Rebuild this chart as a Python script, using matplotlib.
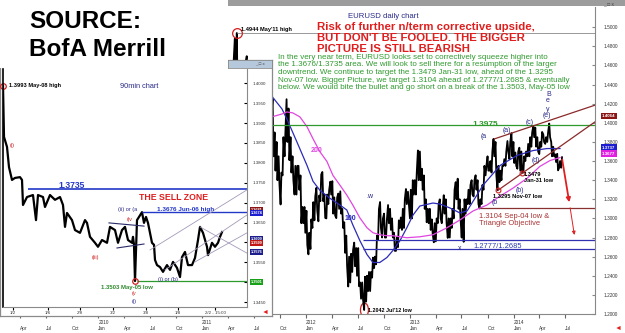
import matplotlib.pyplot as plt
import matplotlib.transforms as mtransforms
import numpy as np
import pandas as pd
from matplotlib.patches import Ellipse

plt.rcParams['font.family'] = ['Liberation Sans', 'DejaVu Sans']

W, H = 625, 333

#----------daily chart: EURUSD weekly high / low from 2011-04-04----------
week_start = "2011-04-04"
hi_2011 = [1.4400, 1.4490, 1.4650, 1.4880, 1.4940, 1.4400, 1.4345, 1.4160, 1.4640,
           1.4698, 1.4500, 1.4450, 1.4580, 1.4530, 1.4280, 1.4450, 1.4450, 1.4400,
           1.4480, 1.4550, 1.4500, 1.4550, 1.4250, 1.3900, 1.3800, 1.3650, 1.3480,
           1.3850, 1.3900, 1.4247, 1.4150, 1.3850, 1.3650, 1.3550, 1.3550, 1.3550,
           1.3450, 1.3120, 1.3120]
lo_2011 = [1.4150, 1.4250, 1.4320, 1.4500, 1.4310, 1.4110, 1.4050, 1.3968, 1.4150,
           1.4480, 1.4070, 1.4100, 1.4250, 1.4230, 1.3837, 1.4050, 1.4250, 1.4050,
           1.4050, 1.4250, 1.4350, 1.4100, 1.3650, 1.3500, 1.3400, 1.3360, 1.3146,
           1.3450, 1.3650, 1.3800, 1.3610, 1.3480, 1.3400, 1.3250, 1.3250, 1.3300,
           1.2950, 1.2950, 1.2850]
hi_2012 = [1.3080, 1.2850, 1.2990, 1.3170, 1.3230, 1.3320, 1.3240, 1.3460, 1.3486,
           1.3250, 1.3250, 1.3300, 1.3385, 1.3390, 1.3220, 1.3220, 1.3260, 1.3283,
           1.3100, 1.2960, 1.2820, 1.2600, 1.2630, 1.2670, 1.2747, 1.2690, 1.2690,
           1.2330, 1.2330, 1.2390, 1.2400, 1.2440, 1.2440, 1.2590, 1.2600, 1.2820,
           1.3100, 1.3172, 1.3000, 1.3050, 1.2990, 1.3140, 1.3100, 1.3000, 1.2850,
           1.2800, 1.2980, 1.3010, 1.3100, 1.3200, 1.3308, 1.3280, 1.3300]
lo_2012 = [1.2720, 1.2624, 1.2680, 1.2900, 1.2980, 1.3080, 1.2970, 1.3180, 1.3180,
           1.3006, 1.3000, 1.3150, 1.3250, 1.3050, 1.3030, 1.3003, 1.3100, 1.3050,
           1.2900, 1.2640, 1.2500, 1.2288, 1.2330, 1.2440, 1.2500, 1.2400, 1.2290,
           1.2160, 1.2150, 1.2042, 1.2130, 1.2240, 1.2240, 1.2380, 1.2480, 1.2520,
           1.2780, 1.2900, 1.2800, 1.2800, 1.2800, 1.2950, 1.2880, 1.2800, 1.2660,
           1.2661, 1.2700, 1.2900, 1.2880, 1.2900, 1.3150, 1.3160, 1.3000]
hi_2013 = [1.3400, 1.3400, 1.3480, 1.3711, 1.3700, 1.3520, 1.3450, 1.3200, 1.3100,
           1.3100, 1.2990, 1.2950, 1.3000, 1.3150, 1.3200, 1.3100, 1.3243, 1.3200,
           1.3000, 1.3000, 1.3100, 1.3300, 1.3380, 1.3416, 1.3200, 1.3100, 1.3200,
           1.3200, 1.3300, 1.3350, 1.3400, 1.3400, 1.3452, 1.3400, 1.3200, 1.3350,
           1.3550, 1.3550, 1.3650, 1.3600, 1.3700, 1.3832, 1.3800, 1.3550, 1.3500,
           1.3550, 1.3620, 1.3700, 1.3810, 1.3800, 1.3893, 1.3800]
lo_2013 = [1.3000, 1.3250, 1.3250, 1.3400, 1.3400, 1.3300, 1.3100, 1.2960, 1.2950,
           1.2880, 1.2840, 1.2750, 1.2760, 1.2950, 1.3000, 1.2950, 1.3050, 1.2950,
           1.2796, 1.2800, 1.2900, 1.3000, 1.3200, 1.3100, 1.3000, 1.2800, 1.2755,
           1.3050, 1.3150, 1.3150, 1.3250, 1.3230, 1.3300, 1.3150, 1.3104, 1.3150,
           1.3300, 1.3450, 1.3500, 1.3500, 1.3480, 1.3650, 1.3450, 1.3295, 1.3380,
           1.3400, 1.3550, 1.3550, 1.3700, 1.3620, 1.3650, 1.3580]
hi_2014 = [1.3690, 1.3700, 1.3740, 1.3700, 1.3650, 1.3700, 1.3780, 1.3850, 1.3900,
           1.3967, 1.3950, 1.3850, 1.3800, 1.3905, 1.3880, 1.3850, 1.3900, 1.3993,
           1.3800, 1.3750, 1.3670, 1.3676, 1.3600, 1.3640]
lo_2014 = [1.3550, 1.3520, 1.3500, 1.3479, 1.3480, 1.3600, 1.3650, 1.3650, 1.3750,
           1.3850, 1.3750, 1.3700, 1.3673, 1.3750, 1.3800, 1.3780, 1.3800, 1.3850,
           1.3650, 1.3650, 1.3590, 1.3503, 1.3530, 1.3530]

#----------moving averages----------
ma100_dates = ["2011-09-03", "2011-10-09", "2011-10-26", "2011-11-30", "2012-01-05",
               "2012-01-26", "2012-02-19", "2012-03-25", "2012-04-30", "2012-05-24",
               "2012-06-14", "2012-07-09", "2012-08-03", "2012-08-24", "2012-09-17",
               "2012-10-12", "2012-11-02", "2012-11-27", "2012-12-21", "2013-01-12",
               "2013-02-05", "2013-03-23", "2013-04-17", "2013-05-22", "2013-06-26",
               "2013-07-21", "2013-09-15", "2013-11-14", "2014-01-12", "2014-03-10",
               "2014-04-28", "2014-06-13"]
ma100 = [1.4280, 1.4145, 1.4041, 1.3803, 1.3554, 1.3389, 1.3295, 1.3212, 1.3140, 1.3088,
         1.2933, 1.2767, 1.2622, 1.2539, 1.2539, 1.2591, 1.2664, 1.2767, 1.2902, 1.3036,
         1.3130, 1.3161, 1.3150, 1.3109, 1.3057, 1.3078, 1.3347, 1.3554, 1.3658, 1.3710,
         1.3731, 1.3731]
ma200_dates = ["2011-09-03", "2011-10-09", "2011-10-26", "2011-11-16", "2011-12-11",
               "2012-01-05", "2012-01-26", "2012-02-19", "2012-03-15", "2012-04-05",
               "2012-04-30", "2012-05-24", "2012-06-14", "2012-07-09", "2012-08-03",
               "2012-08-24", "2012-09-17", "2012-10-12", "2012-11-02", "2012-12-21",
               "2013-02-05", "2013-03-23", "2013-05-11", "2013-06-26", "2013-08-11",
               "2013-09-29", "2013-11-14", "2013-12-29", "2014-02-17", "2014-04-03",
               "2014-05-09", "2014-06-13"]
ma200 = [1.4062, 1.4093, 1.4114, 1.4104, 1.4062, 1.3959, 1.3834, 1.3699, 1.3596, 1.3451,
         1.3347, 1.3244, 1.3140, 1.3005, 1.2902, 1.2850, 1.2829, 1.2819, 1.2819, 1.2798,
         1.2808, 1.2829, 1.2902, 1.2984, 1.3078, 1.3140, 1.3233, 1.3316, 1.3420, 1.3544,
         1.3606, 1.3637]

#----------levels and trend lines on the daily chart----------
may11_high = 1.4944
jul12_low = 1.2042
sell_level = 1.3975
sep04_low, sep04_date = 1.3104, "2013-09-04"
target_levels = [1.2777, 1.2685]
target_from = "2012-07-19"
tri_upper_dates, tri_upper = ["2013-10-25", "2014-10-14"], [1.3832, 1.4185]
tri_lower_dates, tri_lower = ["2013-11-07", "2014-10-14"], [1.3295, 1.4010]
swing_dates, swing_lows = ["2013-11-07", "2014-01-31"], [1.3295, 1.3479]
path_dates, path_prices = ["2014-06-19", "2014-07-17", "2014-08-04"], [1.3645, 1.3140, 1.2798]
right_boxes = [(1.4073, "1.4064", "#8b1414"), (1.3741, "1.3737", "#1c1cd0"), (1.3679, "1.3677", "#e020e0")]

#----------90min chart (bar number, price)----------
bar_no = [0, 1, 4, 6, 9, 12, 17, 19, 20, 24, 30, 33, 35, 40, 42, 47, 52, 57, 60, 62, 64,
          69, 72, 77, 82, 84, 87, 92, 95, 99, 104, 107, 112, 115, 119, 122, 125, 129, 130,
          131, 132, 134, 136, 139, 141, 143, 145, 147, 149, 151, 152, 154, 157, 160, 164,
          167, 170, 174, 177, 179, 182, 185, 189, 192, 195, 197, 200, 204, 205, 209, 212,
          215, 217, 219]
bar_px = [1.3993, 1.3865, 1.3840, 1.3789, 1.3757, 1.3762, 1.3764, 1.3757, 1.3694, 1.3714,
          1.3719, 1.3656, 1.3719, 1.3714, 1.3689, 1.3719, 1.3707, 1.3714, 1.3694, 1.3639,
          1.3674, 1.3656, 1.3631, 1.3624, 1.3656, 1.3649, 1.3614, 1.3599, 1.3589, 1.3606,
          1.3599, 1.3639, 1.3631, 1.3599, 1.3631, 1.3639, 1.3606, 1.3599, 1.3614, 1.3594,
          1.3503, 1.3656, 1.3664, 1.3676, 1.3649, 1.3664, 1.3649, 1.3624, 1.3599, 1.3594,
          1.3556, 1.3543, 1.3538, 1.3526, 1.3543, 1.3531, 1.3551, 1.3536, 1.3513, 1.3563,
          1.3576, 1.3543, 1.3543, 1.3561, 1.3606, 1.3639, 1.3624, 1.3589, 1.3568, 1.3599,
          1.3589, 1.3599, 1.3614, 1.3626]
inset_tick_bars = [10, 45, 77, 110, 143, 175, 212]
inset_tick_labels = ["1/2", "1/6", "2/8", "3/2", "3/8", "1/8", "2/2 - 15:00"]
level_1_3735 = 1.3735
level_1_3676 = 1.3676
level_1_3503 = 1.3503
tri_top_bars, tri_top = [106, 141], [1.3649, 1.3641]
tri_bot_bars, tri_bot = [114, 141], [1.3586, 1.3596]
channel_lines = [([147, 244], [1.3581, 1.3732]), ([162, 244], [1.3531, 1.3669]),
                 ([197, 244], [1.3639, 1.3573]), ([192, 244], [1.3551, 1.3624])]
inset_boxes = [(1.3681, "#8b1414"), (1.3674, "#1c1cd0"), (1.3609, "#1c1c8c"),
               (1.3599, "#c01818"), (1.3576, "#1c1c8c"), (1.3501, "#18a018")]
inset_hidden_ticks = [1.3500, 1.3600]


def rect(x0, y0, x1, y1):
    return [x0 / W, 1 - y1 / H, (x1 - x0) / W, (y1 - y0) / H]


def ftxt(px, py, s, **kw):
    kw.setdefault('va', 'center')
    fig.text(px / W, 1 - py / H, s, **kw)


NAVY = '#2a2a8a'
fig = plt.figure(figsize=(W / 100, H / 100), dpi=100)

#----------daily chart----------
ax = fig.add_axes(rect(0, 7, 595, 314))
week_hi = hi_2011 + hi_2012 + hi_2013 + hi_2014
week_lo = lo_2011 + lo_2012 + lo_2013 + lo_2014
weeks = pd.date_range(week_start, periods=len(week_hi), freq='7D')
# draw each week as a high->low swing so the series reads like daily bars
zx, zy = [], []
for i in range(len(week_hi)):
    mid = (week_hi[i] + week_lo[i]) / 2
    nxt = (week_hi[i + 1] + week_lo[i + 1]) / 2 if i + 1 < len(week_hi) else mid
    pair = [week_hi[i], week_lo[i]] if nxt < mid else [week_lo[i], week_hi[i]]
    zx += [weeks[i] + pd.Timedelta(days=1), weeks[i] + pd.Timedelta(days=4)]
    zy += pair
ax.plot(zx, zy, color='black', lw=1.3)
ax.plot(pd.to_datetime(ma100_dates), ma100, color='#2b2bb8', lw=0.9)
ax.plot(pd.to_datetime(ma200_dates), ma200, color='#e046e0', lw=0.9)
x0, x1 = pd.Timestamp("2009-01-20"), pd.Timestamp("2014-10-14")
ax.set_xlim(x0, x1)
ax.set_ylim(1.2031, 1.5212)
hi_date = weeks[int(np.argmax(hi_2011))] + pd.Timedelta(days=2)
lo_date = weeks[39 + int(np.argmin(lo_2012))] + pd.Timedelta(days=2)
ax.hlines(may11_high, hi_date, x1, color='#999999', lw=0.7)
ax.plot(hi_date, may11_high, 'o', ms=7, mfc='none', mec='#d02020', mew=0.9)
ax.add_patch(Ellipse((lo_date, jul12_low), 28, 0.0145, fill=False, ec='#d02020', lw=0.9))
ax.axhline(sell_level, color='#2e9a2e', lw=0.9)
ax.hlines(sep04_low, pd.Timestamp(sep04_date), x1, color='#8b3030', lw=0.9)
ax.hlines(target_levels, pd.Timestamp(target_from), x1, color='#3030b0', lw=0.9)
ax.plot(pd.to_datetime(tri_upper_dates), tri_upper, color='#8b2a2a', lw=0.9)
ax.plot(pd.to_datetime(tri_lower_dates), tri_lower, color='#8b2a2a', lw=0.9)
ax.plot(pd.to_datetime(swing_dates), swing_lows, 'o', ms=3.5, mfc='none', mec='#d02020', mew=0.8)
pd_dates = pd.to_datetime(path_dates)
ax.annotate('', xy=(pd_dates[1], path_prices[1]), xytext=(pd_dates[0], path_prices[0]),
            arrowprops=dict(arrowstyle='-|>', color='#e02020', lw=1.3, mutation_scale=6))
ax.annotate('', xy=(pd_dates[2], path_prices[2]), xytext=(pd_dates[1], path_prices[1]),
            arrowprops=dict(arrowstyle='-|>', color='#e02020', lw=0.7, mutation_scale=5))

ax.yaxis.tick_right()
yt = np.arange(1.20, 1.501, 0.02)
ax.set_yticks(yt)
ax.set_yticklabels(["{:.4f}".format(v) for v in yt])
ax.tick_params(axis='y', labelsize=3.4, labelcolor='#333333', direction='in', length=2,
               pad=6, color='#888888')
quarters = pd.date_range("2009-04-01", "2014-07-01", freq='QS')
ax.set_xticks(quarters)
ax.set_xticklabels([("{}\n{}".format(q.year, q.strftime('%b')) if q.month == 1
                     else "\n" + q.strftime('%b')) for q in quarters])
for lbl in ax.get_xticklabels():
    lbl.set_horizontalalignment('left')
ax.tick_params(axis='x', labelsize=3.4, labelcolor='#333333', length=3, pad=1.5,
               color='#666666')
for s in ['top', 'left']:
    ax.spines[s].set_visible(False)
for s in ['right', 'bottom']:
    ax.spines[s].set_color('#888888')
    ax.spines[s].set_linewidth(0.8)
bt = mtransforms.blended_transform_factory(ax.transAxes, ax.transData)
for val, txt, col in right_boxes:
    ax.text(1.012, val, txt, transform=bt, fontsize=3.2, color='white', va='center',
            fontweight='bold', bbox=dict(facecolor=col, edgecolor='none', pad=0.8))

#----------90min chart window----------
frame = fig.add_axes(rect(0, 60, 272, 316))
frame.set_xticks([])
frame.set_yticks([])
for s in frame.spines.values():
    s.set_color('#8a8a8a')
    s.set_linewidth(0.9)

ins = fig.add_axes(rect(3, 69, 247, 307))
ins.plot(bar_no, bar_px, color='black', lw=1.6)
ins.set_xlim(0, 244)
ins.set_ylim(1.34377, 1.40357)
ins.hlines(level_1_3735, 25, 244, color='#2338c8', lw=1.2)
ins.hlines(level_1_3676, 139, 244, color='#2338c8', lw=1.0)
ins.hlines(level_1_3503, 134, 244, color='#2e9a2e', lw=0.9)
ins.plot(tri_top_bars, tri_top, color='#2a2a6a', lw=0.8)
ins.plot(tri_bot_bars, tri_bot, color='#2a2a6a', lw=0.8)
for cx, cy in channel_lines:
    ins.plot(cx, cy, color='#a49ab8', lw=0.6)
ins.plot([bar_no[0]], [bar_px[0]], 'o', ms=4, mfc='none', mec='#d02020', mew=0.9, clip_on=False)
ins.plot([bar_no[int(np.argmin(bar_px))]], [min(bar_px)], 'o', ms=4, mfc='none',
         mec='#d02020', mew=0.9)
ins.yaxis.tick_right()
iy = np.arange(1.345, 1.4001, 0.005)
ins.set_yticks(iy)
ins.set_yticklabels(["" if any(abs(v - h) < 1e-6 for h in inset_hidden_ticks)
                     else "{:.4f}".format(v) for v in iy])
ins.tick_params(axis='y', labelsize=3.2, labelcolor='#333333', direction='in', length=2, pad=4)
ins.set_xticks(inset_tick_bars)
ins.set_xticklabels(inset_tick_labels)
ins.tick_params(axis='x', labelsize=3.2, labelcolor='#333333', length=2, pad=1)
ins.spines['top'].set_visible(False)
ins.spines['left'].set_color('black')
ins.spines['left'].set_linewidth(1.2)
for s in ['right', 'bottom']:
    ins.spines[s].set_color('#8a8a8a')
ibt = mtransforms.blended_transform_factory(ins.transAxes, ins.transData)
for val, col in inset_boxes:
    ins.text(1.015, val, "{:.4f}".format(val), transform=ibt, fontsize=2.8, color='white',
             va='center', fontweight='bold', bbox=dict(facecolor=col, edgecolor='none', pad=0.6))

bar = fig.add_axes(rect(228, 60, 272, 68))
bar.set_facecolor('#b6c8dc')
bar.set_xticks([])
bar.set_yticks([])
for s in bar.spines.values():
    s.set_color('#8a8a8a')
    s.set_linewidth(0.6)

#----------window chrome and source box----------
top = fig.add_axes(rect(228, 0, 625, 6))
top.set_facecolor('#9c9c9c')
top.set_xticks([])
top.set_yticks([])
for s in top.spines.values():
    s.set_visible(False)

src = fig.add_axes(rect(0, 0, 228, 68))
src.set_facecolor('white')
src.set_xticks([])
src.set_yticks([])
for s in src.spines.values():
    s.set_visible(False)

ftxt(29, 21, "SOURCE:", fontsize=17.5, fontweight='bold')
ftxt(29, 49, "BofA Merrill", fontsize=17.5, fontweight='bold')
ftxt(603, 3.5, "_ □ x", fontsize=3.5, color='#444444')
ftxt(255, 64, "_ □ x", fontsize=3.2, color='#444444')

#----------daily chart texts----------
ftxt(348, 16, "EURUSD daily chart", fontsize=5.6, color=NAVY)
ftxt(241, 29, "1.4944 May'11 high", fontsize=4.1, fontweight='bold')
red_lines = ["Risk of further n/term corrective upside,",
             "BUT DON'T BE FOOLED. THE BIGGER",
             "PICTURE IS STILL BEARISH"]
for i, line in enumerate(red_lines):
    ftxt(317, 27 + 11 * i, line, fontsize=8.2, fontweight='bold', color='#e01e1e')
green_lines = ["In the very near term, EURUSD looks set to correctively squeeze higher into",
               "the 1.3676/1.3735 area. We will look to sell there for a resumption of the larger",
               "downtrend. We continue to target the 1.3479 Jan-31 low, ahead of the 1.3295",
               "Nov-07 low. Bigger Picture, we target 1.3104 ahead of 1.2777/1.2685 & eventually",
               "below. We would bite the bullet and go short on a break of the 1.3503, May-05 low"]
for i, line in enumerate(green_lines):
    ftxt(278, 57.5 + 7.5 * i, line, fontsize=5.75, color='#2f9a2f')

ftxt(472, 124, "1.3975", fontsize=6, fontweight='bold', color='#2e9a2e')
for px, py, s in [(481, 136, "(a"), (503, 130, "(a)"), (526, 123, "(c)"), (546, 94, "B"),
                  (546, 101, "e"), (546, 109, "y"), (543, 116, "(e)"), (532, 160, "(d)"),
                  (516, 190, "(b)"), (492, 203, "(b"), (458, 248, "x"), (366, 197, ".w")]:
    ftxt(px, py, s, fontsize=5, color=NAVY)
ftxt(524, 174.5, "1.3479", fontsize=4.1, fontweight='bold')
ftxt(524, 181, "Jan-31 low", fontsize=4.1, fontweight='bold')
ftxt(493, 197, "1.3295 Nov-07 low", fontsize=4.1, fontweight='bold')
ftxt(479, 216, "1.3104 Sep-04 low &", fontsize=5.4, color='#a83232')
ftxt(479, 223.5, "Triangle Objective", fontsize=5.4, color='#a83232')
ftxt(473, 246, "1.2777/1.2685", fontsize=5.4, color='#2a3ab0')
ftxt(368, 310, "1.2042 Jul'12 low", fontsize=3.9, fontweight='bold')
ftxt(345, 218, "100", fontsize=5, fontweight='bold', color='#2b2bb8')
ftxt(311, 150, "200", fontsize=5, fontweight='bold', color='#e046e0')

#----------90min chart texts----------
ftxt(120, 87, "90min chart", fontsize=5.3, color=NAVY)
ftxt(9, 86, "1.3993 May-08 high", fontsize=4.1, fontweight='bold')
ftxt(10, 145, "(i)", fontsize=4, color='#d02020')
ftxt(58, 185, "1.3735", fontsize=6.2, fontweight='bold', color='#2338c8')
ftxt(139, 198, "THE SELL ZONE", fontsize=6.3, fontweight='bold', color='#e01e1e')
ftxt(157, 209, "1.3676 Jun-06 high", fontsize=4.6, fontweight='bold', color='#2338c8')
ftxt(118, 210, "(ii) or (a", fontsize=4, color=NAVY)
ftxt(127, 219, "(iv", fontsize=4, color='#d02020')
ftxt(92, 257, "(iii)", fontsize=4, color='#d02020')
ftxt(158, 280, "(i) or (b)", fontsize=4, color=NAVY)
ftxt(101, 288, "1.3503 May-05 low", fontsize=4.3, fontweight='bold', color='#2e8a2e')
ftxt(132, 294, "(v", fontsize=4, color='#d02020')
ftxt(132, 302, "(i)", fontsize=4, color=NAVY)
ftxt(615, 328, "◄", fontsize=5, color='#e01e1e')
ftxt(262, 312, "◄", fontsize=5, color='#e01e1e')

fig.savefig("out.png", dpi=100)
